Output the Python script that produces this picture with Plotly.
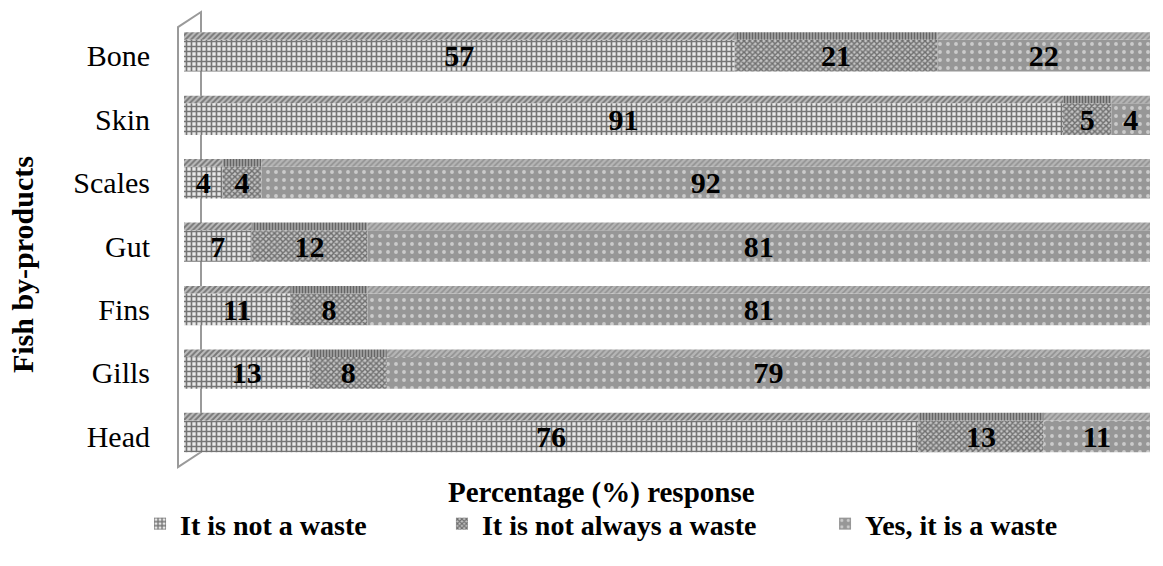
import plotly.graph_objects as go

# Fish by-products, listed bottom to top
categories = ["Head", "Gills", "Fins", "Gut", "Scales", "Skin", "Bone"]
not_waste = [76, 13, 11, 7, 4, 91, 57]
not_always = [13, 8, 8, 12, 4, 5, 21]
yes_waste = [11, 79, 81, 81, 92, 4, 22]
series_names = ["It is not a waste", "It is not always a waste", "Yes, it is a waste"]

FONT = "Liberation Serif"
series = [not_waste, not_always, yes_waste]
bases = [
    [0] * len(categories),
    list(not_waste),
    [a + b for a, b in zip(not_waste, not_always)],
]
patterns = [
    dict(shape="+", size=5, solidity=0.55, fgcolor="#000000", bgcolor="#e8e8e8"),
    dict(shape="x", size=4, solidity=0.6, fgcolor="#1a1a1a", bgcolor="#c4c4c4"),
    dict(shape=".", size=8, solidity=0.18, fgcolor="#ffffff", bgcolor="#979797"),
]
top_patterns = [
    dict(shape="/", size=4, solidity=0.5, fgcolor="#333333", bgcolor="#bdbdbd"),
    dict(shape="|", size=3, solidity=0.5, fgcolor="#222222", bgcolor="#a8a8a8"),
    dict(shape="/", size=4, solidity=0.4, fgcolor="#6e6e6e", bgcolor="#b5b5b5"),
]
legend_ids = ["legend", "legend2", "legend3"]
legend_x = [-0.0455, 0.267, 0.6636]

fig = go.Figure()
for name, vals, base, pat, tpat, lid in zip(series_names, series, bases, patterns,
                                           top_patterns, legend_ids):
    # front face of each segment
    fig.add_trace(go.Bar(
        y=categories, x=vals, base=base, orientation="h", name=name, legend=lid,
        width=0.5, marker=dict(pattern=pat, color=pat["bgcolor"], line=dict(width=0)),
        text=[str(v) for v in vals], textposition="inside", insidetextanchor="middle",
        textangle=0, constraintext="none",
        textfont=dict(family=FONT, size=30, color="black", weight="bold"),
    ))
    # thin top face giving the bars their depth
    fig.add_trace(go.Bar(
        y=categories, x=vals, base=base, orientation="h", showlegend=False,
        width=0.12, offset=0.25, hoverinfo="skip",
        marker=dict(pattern=tpat, color=tpat["bgcolor"], line=dict(width=0)),
    ))

# left wall of the 3D frame
wall = "M -0.0062 0.002 L -0.0062 0.993 L 0.0176 1.027 L 0.0176 0.036 Z"
fig.add_shape(type="path", path=wall, xref="paper", yref="paper",
              line=dict(color="#9a9a9a", width=2), fillcolor="rgba(0,0,0,0)", layer="below")

fig.add_annotation(text="<b>Fish by-products</b>", xref="paper", yref="paper",
                   x=-0.1677, y=0.457, xanchor="center", yanchor="middle",
                   textangle=-90, showarrow=False,
                   font=dict(family=FONT, size=30, color="black"))
fig.add_annotation(text="<b>Percentage (%) response</b>", xref="paper", yref="paper",
                   x=0.432, y=-0.055, xanchor="center", yanchor="middle", showarrow=False,
                   font=dict(family=FONT, size=29, color="black"))

legend_style = dict(orientation="h", y=-0.126, yanchor="middle", xanchor="left",
                    font=dict(family=FONT, size=28, color="black", weight="bold"),
                    itemwidth=30, bgcolor="rgba(0,0,0,0)")

fig.update_layout(
    width=1163, height=566,
    margin=dict(l=184, r=13, t=24, b=98),
    barmode="overlay",
    plot_bgcolor="white", paper_bgcolor="white",
    font=dict(family=FONT, size=30, color="black"),
    xaxis=dict(range=[0, 100], showticklabels=False, showgrid=False, zeroline=False,
               showline=False, ticks=""),
    yaxis=dict(categoryorder="array", categoryarray=categories, showgrid=False,
               zeroline=False, showline=False, ticks="", ticklabelstandoff=33,
               tickfont=dict(family=FONT, size=30, color="black"),
               range=[-0.5, 6.5]),
    legend=dict(x=legend_x[0], **legend_style),
    legend2=dict(x=legend_x[1], **legend_style),
    legend3=dict(x=legend_x[2], **legend_style),
    showlegend=True,
)

fig.write_html("out.html")
